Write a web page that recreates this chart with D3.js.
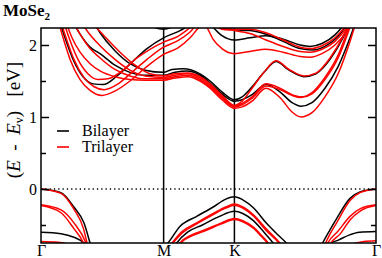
<!DOCTYPE html>
<html>
<head>
<meta charset="utf-8">
<script src="https://cdn.jsdelivr.net/npm/d3@7"></script>
<style>
    body { margin: 0; background: #fff; }
    text { font-family: "Liberation Serif", "Times New Roman", serif; }
</style>
</head>
<body>
<div id="band-chart"></div>
<script>

/*
    MoSe2 BAND STRUCTURE  (k in path units, E in eV)
*/
const kSym = [0, 0.5774, 0.9107, 1.5774]
const kLabels = ["Γ", "M", "K", "Γ"]
const eMajor = [0, 1, 2]
const eMinor = [-0.5, 0.5, 1.5]

// bilayer, valence
const biV1 = [[0, 0], [0.094, -0.05], [0.155, -0.25], [0.202, -0.47], [0.231, -0.75], [0.26, -1.05], [1.295, -0.95], [1.326, -0.75], [1.36, -0.57], [1.392, -0.41], [1.455, -0.13], [1.502, -0.04], [1.577, 0]]
const biV2 = [[0, -0.6], [0.094, -0.62], [0.155, -0.67], [0.202, -0.75], [0.24, -0.9], [1.32, -0.9], [1.36, -0.76], [1.40, -0.71], [1.45, -0.64], [1.50, -0.60], [1.577, -0.59]]
const biVK1 = [[0.56, -0.85], [0.599, -0.745], [0.654, -0.52], [0.733, -0.38], [0.811, -0.25], [0.87, -0.14], [0.911, -0.107], [0.95, -0.15], [1.0, -0.26], [1.063, -0.48], [1.12, -0.65], [1.155, -0.75], [1.19, -0.9]]
const biVK2 = [[0.60, -0.95], [0.639, -0.75], [0.69, -0.6], [0.76, -0.5], [0.84, -0.38], [0.911, -0.31], [0.95, -0.34], [1.0, -0.44], [1.05, -0.6], [1.093, -0.75], [1.13, -0.9]]

// bilayer, conduction
const biC1 = [[0.137, 2.4], [0.184, 2.15], [0.231, 1.97], [0.278, 1.88], [0.348, 1.72], [0.419, 1.62], [0.490, 1.58], [0.577, 1.58], [0.631, 1.62], [0.687, 1.64], [0.749, 1.58], [0.796, 1.47], [0.852, 1.32], [0.911, 1.22], [0.947, 1.24], [0.994, 1.31], [1.059, 1.45], [1.125, 1.35], [1.182, 1.20], [1.224, 1.15], [1.276, 1.20], [1.337, 1.40], [1.399, 1.70], [1.455, 2.1], [1.502, 2.5]]
const biC2 = [[0.207, 2.45], [0.254, 2.28], [0.278, 2.17], [0.348, 1.92], [0.419, 1.74], [0.490, 1.65], [0.577, 1.62], [0.617, 1.66], [0.669, 1.67], [0.749, 1.60], [0.796, 1.50], [0.852, 1.35], [0.911, 1.24], [0.947, 1.28], [0.994, 1.42], [1.050, 1.62], [1.107, 1.77], [1.168, 1.65], [1.238, 1.56], [1.295, 1.60], [1.361, 1.80], [1.422, 2.1], [1.479, 2.5]]
const biC3 = [[0.080, 2.4], [0.113, 2.1], [0.151, 1.8], [0.198, 1.56], [0.245, 1.46], [0.292, 1.45], [0.358, 1.57], [0.428, 1.76], [0.499, 1.95], [0.577, 2.10], [0.655, 2.20], [0.716, 2.30], [0.763, 2.36], [0.805, 2.26], [0.852, 2.13], [0.911, 2.07], [0.984, 2.10], [1.059, 2.13], [1.140, 2.08], [1.220, 2.00], [1.267, 1.98], [1.323, 2.02], [1.384, 2.14], [1.441, 2.35], [1.483, 2.6]]
const biC4 = [[0.372, 2.45], [0.466, 2.32], [0.577, 2.22], [0.655, 2.3], [0.725, 2.4], [0.796, 2.35], [0.852, 2.25], [0.911, 2.21], [0.984, 2.2], [1.059, 2.15], [1.140, 2.05], [1.220, 1.95], [1.276, 1.93], [1.337, 1.98], [1.399, 2.12], [1.455, 2.35]]

// trilayer, valence
const triV1 = [[0, 0], [0.094, -0.06], [0.155, -0.28], [0.20, -0.55], [0.217, -0.75], [0.245, -1.05], [1.31, -0.95], [1.34, -0.75], [1.36, -0.63], [1.392, -0.47], [1.455, -0.16], [1.502, -0.05], [1.577, 0]]
const triV2 = [[0, -0.22], [0.094, -0.29], [0.155, -0.47], [0.212, -0.75], [0.24, -1.0], [1.32, -0.95], [1.35, -0.75], [1.40, -0.58], [1.455, -0.38], [1.506, -0.27], [1.577, -0.22]]
const triV3 = [[0, -0.23], [0.094, -0.33], [0.155, -0.55], [0.2, -0.75], [0.23, -1.0], [1.33, -0.95], [1.365, -0.75], [1.41, -0.62], [1.455, -0.43], [1.506, -0.30], [1.577, -0.23]]
const triV4 = [[0, -0.73], [0.08, -0.74], [0.13, -0.77], [0.18, -0.85], [1.42, -0.85], [1.47, -0.76], [1.52, -0.73], [1.577, -0.72]]
const triVK1 = [[0.58, -0.9], [0.617, -0.75], [0.66, -0.6], [0.733, -0.47], [0.811, -0.34], [0.87, -0.25], [0.911, -0.21], [0.95, -0.25], [1.0, -0.36], [1.063, -0.56], [1.125, -0.75], [1.16, -0.9]]
const triVK2 = [[0.585, -0.9], [0.622, -0.75], [0.665, -0.61], [0.733, -0.485], [0.811, -0.355], [0.87, -0.265], [0.911, -0.225], [0.95, -0.265], [1.0, -0.375], [1.06, -0.575], [1.12, -0.75], [1.155, -0.9]]
const triVK3 = [[0.62, -0.95], [0.654, -0.75], [0.70, -0.65], [0.77, -0.57], [0.85, -0.47], [0.911, -0.41], [0.95, -0.44], [1.0, -0.53], [1.04, -0.65], [1.07, -0.75], [1.10, -0.9]]
const triVK4 = [[0.625, -0.95], [0.659, -0.75], [0.70, -0.665], [0.77, -0.585], [0.85, -0.485], [0.911, -0.425], [0.95, -0.455], [1.0, -0.545], [1.035, -0.65], [1.065, -0.75], [1.095, -0.9]]

// trilayer, conduction
const triC1 = [[0.108, 2.4], [0.146, 2.1], [0.184, 1.9], [0.231, 1.74], [0.278, 1.64], [0.348, 1.56], [0.419, 1.52], [0.490, 1.51], [0.577, 1.51], [0.631, 1.54], [0.692, 1.56], [0.749, 1.50], [0.796, 1.40], [0.852, 1.24], [0.911, 1.12], [0.947, 1.14], [0.994, 1.22], [1.059, 1.40], [1.125, 1.27], [1.182, 1.07], [1.224, 1.00], [1.276, 1.06], [1.337, 1.28], [1.399, 1.60], [1.455, 2.05], [1.502, 2.5]]
const triC2 = [[0.137, 2.4], [0.184, 2.15], [0.231, 1.95], [0.278, 1.82], [0.348, 1.66], [0.419, 1.57], [0.490, 1.53], [0.577, 1.53], [0.631, 1.56], [0.692, 1.58], [0.749, 1.52], [0.796, 1.42], [0.852, 1.26], [0.911, 1.14], [0.947, 1.17], [0.994, 1.26], [1.059, 1.43], [1.125, 1.38], [1.182, 1.30], [1.224, 1.27], [1.276, 1.32], [1.337, 1.52], [1.399, 1.82], [1.455, 2.25], [1.493, 2.6]]
const triC3 = [[0.174, 2.4], [0.221, 2.18], [0.278, 1.99], [0.348, 1.80], [0.419, 1.65], [0.490, 1.57], [0.577, 1.55], [0.631, 1.58], [0.692, 1.60], [0.749, 1.54], [0.796, 1.44], [0.852, 1.28], [0.911, 1.15], [0.947, 1.19], [0.994, 1.28], [1.059, 1.46], [1.125, 1.40], [1.182, 1.31], [1.224, 1.28], [1.276, 1.34], [1.337, 1.55], [1.399, 1.86], [1.455, 2.3], [1.493, 2.65]]
const triC4 = [[0.221, 2.4], [0.259, 2.25], [0.306, 2.1], [0.372, 1.9], [0.443, 1.72], [0.513, 1.60], [0.577, 1.57], [0.631, 1.60], [0.692, 1.61], [0.749, 1.56], [0.796, 1.46], [0.852, 1.30], [0.911, 1.16], [0.947, 1.22], [0.994, 1.40], [1.050, 1.62], [1.107, 1.78], [1.168, 1.66], [1.238, 1.57], [1.295, 1.61], [1.361, 1.82], [1.422, 2.12], [1.479, 2.5]]
const triC5 = [[0.075, 2.4], [0.104, 2.1], [0.137, 1.8], [0.184, 1.52], [0.231, 1.37], [0.287, 1.30], [0.348, 1.36], [0.419, 1.50], [0.490, 1.68], [0.577, 1.87], [0.645, 1.96], [0.702, 2.10], [0.749, 2.26], [0.768, 2.30], [0.786, 2.22], [0.810, 2.08], [0.852, 1.95], [0.911, 1.88], [0.984, 1.91], [1.059, 1.94], [1.140, 1.90], [1.220, 1.84], [1.267, 1.83], [1.323, 1.88], [1.384, 2.0], [1.441, 2.2], [1.488, 2.45]]
const triC6 = [[0.085, 2.4], [0.118, 2.1], [0.155, 1.8], [0.202, 1.55], [0.250, 1.42], [0.297, 1.38], [0.363, 1.46], [0.428, 1.62], [0.499, 1.80], [0.577, 1.97], [0.645, 2.06], [0.702, 2.18], [0.749, 2.32], [0.805, 2.28], [0.852, 2.22], [0.911, 2.20], [0.984, 2.16], [1.059, 2.07], [1.140, 1.98], [1.220, 1.91], [1.267, 1.90], [1.323, 1.94], [1.384, 2.05], [1.441, 2.25], [1.479, 2.45]]
const triC7 = [[0.099, 2.4], [0.132, 2.1], [0.174, 1.8], [0.221, 1.6], [0.268, 1.52], [0.315, 1.53], [0.381, 1.64], [0.452, 1.82], [0.513, 1.94], [0.577, 2.04], [0.645, 2.12], [0.702, 2.24], [0.749, 2.35], [0.805, 2.30], [0.852, 2.24], [0.911, 2.22], [0.984, 2.22], [1.059, 2.17], [1.140, 2.07], [1.220, 1.97], [1.267, 1.95], [1.323, 1.99], [1.384, 2.1], [1.441, 2.3], [1.483, 2.55]]

const biBands = [biV1, biV2, biVK1, biVK2, biC1, biC2, biC3, biC4]
const triBands = [triV1, triV2, triV3, triV4, triVK1, triVK2, triVK3, triVK4, triC1, triC2, triC3, triC4, triC5, triC6, triC7]

const drawBands = () => {

    var width = 382,
        height = 258;
    const margin = ({ top: 28, right: 6, bottom: 15, left: 41 })

    var svg = d3.select("#band-chart").append("svg")
        .attr("width", width)
        .attr("height", height)
        .style("display", "block")

    const x = d3.scaleLinear()
        .domain([kSym[0], kSym[3]])
        .range([margin.left, width - margin.right])

    const y = d3.scaleLinear()
        .domain([-0.75, 2.236])
        .range([height - margin.bottom, margin.top])

    svg.append("defs").append("clipPath")
        .attr("id", "plot-area")
        .append("rect")
        .attr("x", margin.left)
        .attr("y", margin.top)
        .attr("width", width - margin.left - margin.right)
        .attr("height", height - margin.top - margin.bottom)

    // valence band maximum
    svg.append("line")
        .attr("x1", x(kSym[0]))
        .attr("x2", x(kSym[3]))
        .attr("y1", y(0))
        .attr("y2", y(0))
        .attr("stroke", "#000")
        .attr("stroke-width", 1.3)
        .attr("stroke-dasharray", "1.3,3")

    // high symmetry points
    svg.append("g")
        .selectAll("line")
        .data(kSym.slice(1, 3))
        .join("line")
        .attr("x1", d => x(d))
        .attr("x2", d => x(d))
        .attr("y1", y.range()[0])
        .attr("y2", y.range()[1])
        .attr("stroke", "#000")
        .attr("stroke-width", 1.5)

    const line = d3.line()
        .x(d => x(d[0]))
        .y(d => y(d[1]))
        .curve(d3.curveMonotoneX)

    const bands = svg.append("g")
        .attr("clip-path", "url(#plot-area)")
        .attr("fill", "none")
        .attr("stroke-width", 1.5)

    bands.append("g")
        .attr("stroke", "#000")
        .selectAll("path")
        .data(biBands)
        .join("path")
        .attr("d", line)

    bands.append("g")
        .attr("stroke", "#ff0000")
        .selectAll("path")
        .data(triBands)
        .join("path")
        .attr("d", line)

    // axes, ticks pointing inward
    const styleAxis = g => g
        .attr("font-family", "Liberation Serif, serif")
        .call(g => g.select(".domain").remove())
        .call(g => g.selectAll(".tick line").attr("stroke-width", 1.5))

    svg.append("g")
        .attr("transform", `translate(${margin.left},0)`)
        .call(d3.axisLeft(y).tickValues(eMajor).tickSize(-8).tickPadding(4).tickFormat(d3.format("d")))
        .call(styleAxis)
        .attr("font-size", 16)

    svg.append("g")
        .attr("transform", `translate(${margin.left},0)`)
        .call(d3.axisLeft(y).tickValues(eMinor).tickSize(-5).tickFormat(""))
        .call(styleAxis)

    svg.append("g")
        .attr("transform", `translate(${width - margin.right},0)`)
        .call(d3.axisRight(y).tickValues(eMajor).tickSize(-8).tickFormat(""))
        .call(styleAxis)

    svg.append("g")
        .attr("transform", `translate(${width - margin.right},0)`)
        .call(d3.axisRight(y).tickValues(eMinor).tickSize(-5).tickFormat(""))
        .call(styleAxis)

    svg.append("g")
        .attr("transform", `translate(0,${height - margin.bottom})`)
        .call(d3.axisBottom(x).tickValues(kSym).tickSize(0).tickPadding(2).tickFormat((d, i) => kLabels[i]))
        .call(styleAxis)
        .attr("font-size", 16)

    svg.append("rect")
        .attr("x", margin.left)
        .attr("y", margin.top)
        .attr("width", width - margin.left - margin.right)
        .attr("height", height - margin.top - margin.bottom)
        .attr("fill", "none")
        .attr("stroke", "#000")
        .attr("stroke-width", 1.5)

    // title
    const title = svg.append("text")
        .attr("x", 3)
        .attr("y", 16)
        .attr("font-size", 17)
        .attr("font-weight", "bold")
        .text("MoSe")
    title.append("tspan")
        .attr("font-size", 11)
        .attr("dy", 4)
        .text("2")

    // y label
    const ylab = svg.append("text")
        .attr("transform", "translate(20,120) rotate(-90)")
        .attr("text-anchor", "middle")
        .attr("font-size", 19)
        .style("white-space", "pre")
    ylab.append("tspan").text("(")
    ylab.append("tspan").attr("font-style", "italic").text("E")
    ylab.append("tspan").text("  -  ")
    ylab.append("tspan").attr("font-style", "italic").text("E")
    ylab.append("tspan").attr("font-size", 12).attr("dy", 3).text("v")
    ylab.append("tspan").attr("dy", -3).text(")")
    ylab.append("tspan").text("   [eV]")

    // legend
    const legend = svg.append("g")
        .selectAll("g")
        .data([{ name: "Bilayer", color: "#000" }, { name: "Trilayer", color: "#ff0000" }])
        .join("g")
        .attr("transform", (d, i) => `translate(57,${131 + i * 16})`)

    legend.append("line")
        .attr("x1", 0)
        .attr("x2", 12)
        .attr("stroke", d => d.color)
        .attr("stroke-width", 1.6)

    legend.append("text")
        .attr("x", 25)
        .attr("y", 5)
        .attr("font-size", 16)
        .text(d => d.name)
}

drawBands()

</script>
</body>
</html>
